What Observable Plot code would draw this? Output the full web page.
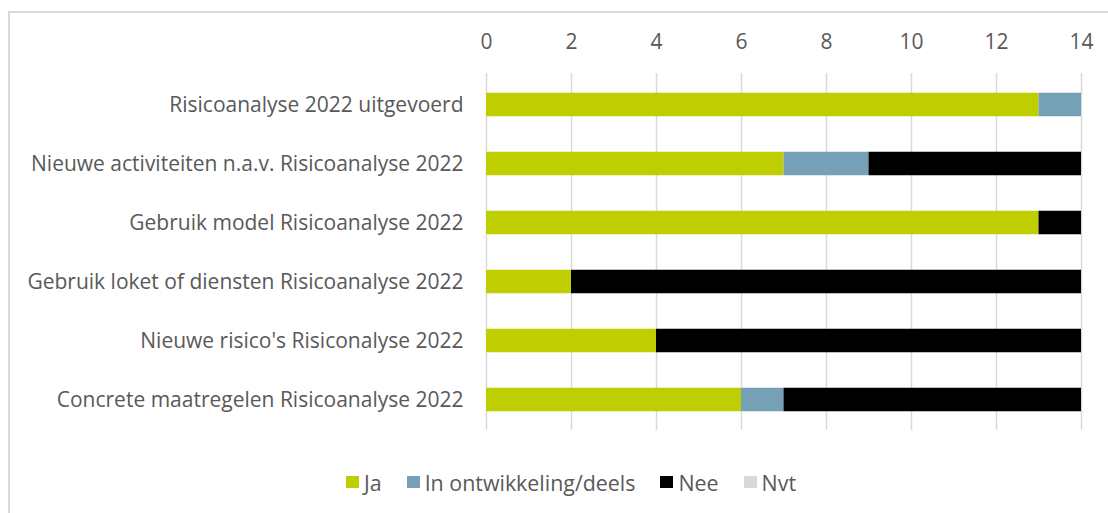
<!DOCTYPE html>
<html>
<head>
<meta charset="utf-8">
<script src="https://cdn.jsdelivr.net/npm/d3@7"></script>
<script src="https://cdn.jsdelivr.net/npm/@observablehq/plot@0.6"></script>
<style>
  body { margin: 0; background: #fff; font-family: "Open Sans", sans-serif; }
  #wrap { position: relative; width: 1108px; height: 513px; overflow: hidden; }
  #frame { position: absolute; left: 8px; top: 11px; width: 1120px; height: 520px; border: 2px solid #d9d9d9; box-sizing: border-box; }
  #chart { position: absolute; left: 0; top: 0; }
  #legend { position: absolute; left: 346px; top: 467px; height: 30px; display: flex; align-items: center; font-size: 21.4px; color: #595959; }
  .item { display: flex; align-items: center; margin-right: 25px; }
  .sw { width: 13px; height: 12px; margin-right: 5px; }
</style>
</head>
<body>
<div id="wrap">
  <div id="frame"></div>
  <div id="chart"></div>
  <div id="legend"></div>
</div>
<script>
const categories = [
  "Risicoanalyse 2022 uitgevoerd",
  "Nieuwe activiteiten n.a.v. Risicoanalyse 2022",
  "Gebruik model Risicoanalyse 2022",
  "Gebruik loket of diensten Risicoanalyse 2022",
  "Nieuwe risico's Risiconalyse 2022",
  "Concrete maatregelen Risicoanalyse 2022"
];
const seriesNames = ["Ja", "In ontwikkeling/deels", "Nee", "Nvt"];
const seriesColors = ["#bfce00", "#76a0b5", "#000000", "#d9d9d9"];
const ja    = [13, 7, 13, 2, 4, 6];
const inOnt = [1, 2, 0, 0, 0, 1];
const nee   = [0, 5, 1, 12, 10, 7];
const nvt   = [0, 0, 0, 0, 0, 0];
const xTicks = [0, 2, 4, 6, 8, 10, 12, 14];

const seriesValues = [ja, inOnt, nee, nvt];
const data = [];
seriesNames.forEach((s, si) => {
  categories.forEach((c, ci) => {
    data.push({category: c, series: s, value: seriesValues[si][ci]});
  });
});

const chart = Plot.plot({
  width: 1108,
  height: 450,
  marginLeft: 486,
  marginRight: 27,
  marginTop: 73,
  marginBottom: 20,
  style: { fontFamily: "'Open Sans', sans-serif", fontSize: "21px", color: "#595959", background: "transparent" },
  x: { domain: [0, 14], ticks: xTicks, axis: null },
  y: { domain: categories, padding: 0, label: null },
  color: { domain: seriesNames, range: seriesColors },
  marks: [
    Plot.ruleX(xTicks, { stroke: "#d9d9d9", strokeWidth: 1.5 }),
    Plot.axisX({ anchor: "top", ticks: xTicks, tickSize: 0, tickPadding: 25, label: null, fontSize: 21, fill: "#595959" }),
    Plot.axisY({ tickSize: 0, tickPadding: 23, label: null, fontSize: 21, fill: "#595959" }),
    Plot.barX(data, Plot.stackX({
      x: "value", y: "category", fill: "series", order: seriesNames,
      insetTop: 17.75, insetBottom: 17.75
    }))
  ]
});
document.getElementById("chart").appendChild(chart);

const legend = document.getElementById("legend");
seriesNames.forEach((s, i) => {
  const item = document.createElement("div");
  item.className = "item";
  const sw = document.createElement("div");
  sw.className = "sw";
  sw.style.background = seriesColors[i];
  const t = document.createElement("span");
  t.textContent = s;
  item.appendChild(sw);
  item.appendChild(t);
  legend.appendChild(item);
});
</script>
</body>
</html>
